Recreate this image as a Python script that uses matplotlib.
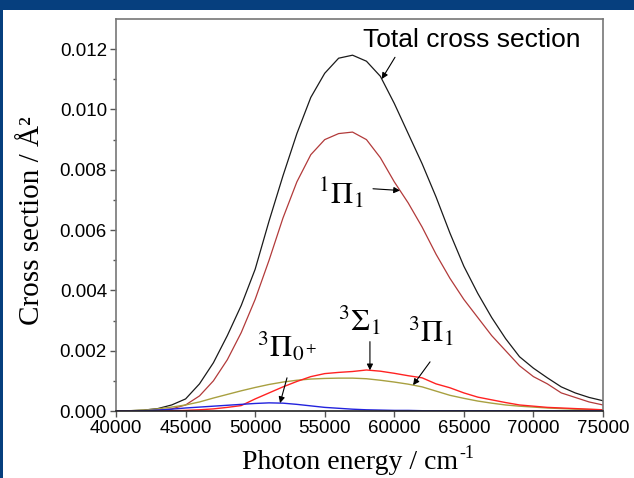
import numpy as np
import matplotlib
matplotlib.use("Agg")
import matplotlib.pyplot as plt
from matplotlib.patches import Rectangle

plt.rcParams['mathtext.fontset'] = 'stix'
plt.rcParams['font.family'] = ['Liberation Sans', 'DejaVu Sans']

# photon energy grid (cm^-1) and partial cross sections (A^2)
energy = np.arange(40000, 75001, 1000)

total = [0.0, 0.00001, 0.00003, 0.00008, 0.0002, 0.0004, 0.0009, 0.0016, 0.0025, 0.0035,
         0.0047, 0.0063, 0.0078, 0.0092, 0.0104, 0.0112, 0.0117, 0.0118, 0.0116, 0.0111,
         0.0102, 0.0092, 0.0082, 0.0071, 0.0059, 0.0048, 0.0039, 0.0031, 0.0024, 0.0018,
         0.00142, 0.0011, 0.0008, 0.0006, 0.00045, 0.00034]
pi1_singlet = [0.0, 0.0, 0.00001, 0.00003, 0.00007, 0.0002, 0.0005, 0.0010, 0.0017, 0.0026,
               0.0037, 0.0050, 0.0064, 0.0076, 0.0085, 0.0090, 0.0092, 0.00925, 0.0090, 0.0084,
               0.0076, 0.0069, 0.0061, 0.0052, 0.0044, 0.0037, 0.0031, 0.0025, 0.0020, 0.0015,
               0.00114, 0.0009, 0.0006, 0.00045, 0.0003, 0.0002]
sigma1_triplet = [0.0, 0.0, 0.0, 0.0, 0.00001, 0.00002, 0.00004, 0.00007, 0.00012, 0.00018,
                  0.0004, 0.0006, 0.0008, 0.00098, 0.00114, 0.00124, 0.00128, 0.00131, 0.00136, 0.00132,
                  0.00125, 0.00117, 0.0011, 0.0009, 0.00077, 0.0006, 0.00046, 0.00037, 0.00028, 0.0002,
                  0.00016, 0.00012, 0.0001, 0.00008, 0.00006, 0.00004]
pi1_triplet = [0.0, 0.00001, 0.00003, 0.00007, 0.00013, 0.0002, 0.0003, 0.00043, 0.00055, 0.00067,
               0.00078, 0.00088, 0.00096, 0.00102, 0.00106, 0.00108, 0.00109, 0.00109, 0.00107, 0.00102,
               0.00096, 0.00089, 0.0008, 0.00066, 0.00052, 0.00042, 0.00033, 0.00026, 0.0002, 0.00016,
               0.00013, 0.0001, 0.00008, 0.00006, 0.00005, 0.00004]
pi0_triplet = [0.0, 0.0, 0.00001, 0.00003, 0.00006, 0.0001, 0.00013, 0.00016, 0.00019, 0.00022,
               0.00025, 0.00027, 0.00026, 0.00022, 0.00017, 0.00012, 0.00009, 0.00006, 0.00004, 0.00003,
               0.00002, 0.00002, 0.00001, 0.00001, 0.00001, 0.00001, 0.00001, 0.00001, 0.00001, 0.00001,
               0.00001, 0.00001, 0.00001, 0.00001, 0.00001, 0.00001]

xticks = [40000, 45000, 50000, 55000, 60000, 65000, 70000, 75000]
yticks = [0.000, 0.002, 0.004, 0.006, 0.008, 0.010, 0.012]

fig = plt.figure(figsize=(6.34, 4.78), dpi=100)
fig.patch.set_facecolor('#063f7e')
# white slide panel under the plot
fig.add_artist(Rectangle((3 / 634, 0), 1, 1 - 10 / 478, transform=fig.transFigure,
                         facecolor='white', edgecolor='none', zorder=-1))

ax = fig.add_axes([116 / 634, 67 / 478, 487 / 634, 392 / 478])
ax.set_facecolor('white')

ax.plot(energy, total, color='#1a1a1a', lw=0.9)
ax.plot(energy, pi1_singlet, color='#b23a3a', lw=0.9)
ax.plot(energy, pi1_triplet, color='#a8a040', lw=1.0)
ax.plot(energy, sigma1_triplet, color='#ff2222', lw=1.0)
ax.plot(energy, pi0_triplet, color='#2222dd', lw=1.0)

ax.set_xlim(40000, 75000)
ax.set_ylim(0, 0.013)
ax.set_xticks(xticks)
ax.set_xticklabels([str(v) for v in xticks])
ax.set_yticks(yticks)
ax.set_yticklabels(['%.3f' % v for v in yticks])
ax.set_yticks(np.arange(0.001, 0.0125, 0.002), minor=True)
ax.tick_params(axis='both', which='major', direction='out', length=4, width=1,
               color='#555555', labelsize=13.5, pad=2.5, top=False, right=False)
ax.tick_params(axis='y', which='minor', direction='out', length=2.5, width=1, color='#555555')
for s in ax.spines.values():
    s.set_color('#777777')
    s.set_linewidth(1.2)
ax.spines['bottom'].set_color('#222222')

serif = ['Liberation Serif', 'DejaVu Serif']
fig.text(39 / 634, 1 - 221 / 478, 'Cross section / Å²', rotation=90, rotation_mode='anchor',
         ha='center', va='baseline', fontsize=21, family=serif)

# x label: main text plus a small raised "-1"
xl = fig.text(350 / 634, 1 - 469 / 478, 'Photon energy / cm', ha='center', va='baseline',
              fontsize=20, family=serif)
renderer = fig.canvas.get_renderer()
bb = xl.get_window_extent(renderer)
fig.text((bb.x1 + 1) / 634, (bb.y0 + 17) / 478, '-1', ha='left', va='baseline',
         fontsize=13, family=serif)

arrow = dict(arrowstyle='-|>', color='black', lw=0.8, mutation_scale=9, shrinkA=0, shrinkB=0)


def point_on(curve, e):
    return e, np.interp(e, energy, curve)


# curve labels with arrows pointing at the curves
ax.text(57750, 0.0123, 'Total cross section', fontsize=19, ha='left', va='center')
ax.annotate('', xy=point_on(total, 59100), xytext=(60050, 0.01173), arrowprops=arrow)

ax.text(54500, 0.0072, r'$^1\Pi_1$', fontsize=22, ha='left', va='center')
ax.annotate('', xy=point_on(pi1_singlet, 60410), xytext=(58470, 0.00737), arrowprops=arrow)

ax.text(55950, 0.00297, r'$^3\Sigma_1$', fontsize=22, ha='left', va='center')
ax.annotate('', xy=point_on(sigma1_triplet, 58250), xytext=(58250, 0.0023), arrowprops=arrow)

ax.text(60950, 0.0026, r'$^3\Pi_1$', fontsize=22, ha='left', va='center')
ax.annotate('', xy=point_on(pi1_triplet, 61350), xytext=(62570, 0.00163), arrowprops=arrow)

ax.text(50100, 0.00213, r'$^3\Pi_{0^+}$', fontsize=22, ha='left', va='center')
ax.annotate('', xy=point_on(pi0_triplet, 51790), xytext=(52290, 0.0011), arrowprops=arrow)

fig.savefig('out.png', dpi=100, facecolor=fig.get_facecolor())
